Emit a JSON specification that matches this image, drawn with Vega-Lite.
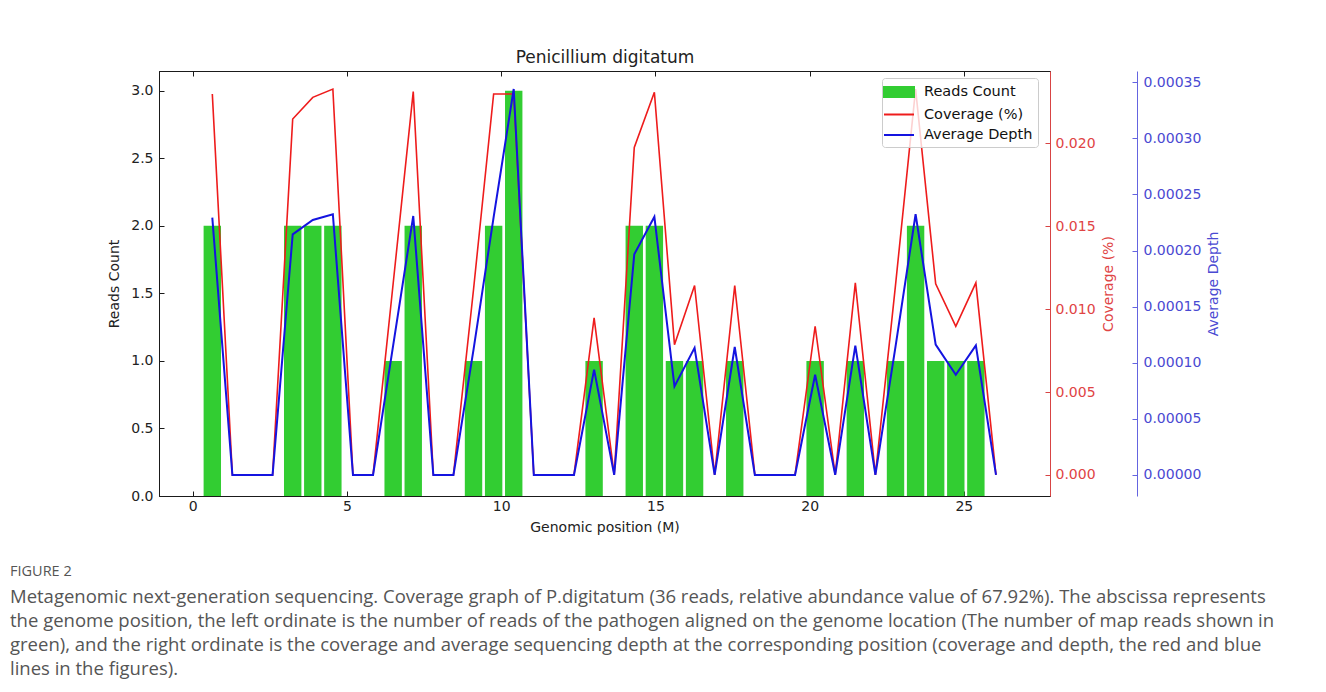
{
  "$schema": "https://vega.github.io/schema/vega-lite/v6.json",
  "width": 891,
  "height": 425,
  "padding": {"left": 10, "top": 48, "right": 5, "bottom": 5},
  "background": "white",
  "config": {
    "view": {"stroke": "#1a1a1a", "strokeWidth": 1},
    "font": "DejaVu Sans",
    "axis": {
      "labelFont": "DejaVu Sans", "titleFont": "DejaVu Sans",
      "labelFontSize": 14, "titleFontSize": 14, "titleFontWeight": "normal",
      "grid": false, "labelColor": "#222222", "titleColor": "#222222",
      "domainColor": "#1a1a1a", "tickColor": "#1a1a1a", "tickSize": -5,
      "labelOverlap": false
    }
  },
  "title": {
    "text": "FIGURE 2",
    "subtitle": [
      "Metagenomic next-generation sequencing. Coverage graph of P.digitatum (36 reads, relative abundance value of 67.92%). The abscissa represents",
      "the genome position, the left ordinate is the number of reads of the pathogen aligned on the genome location (The number of map reads shown in",
      "green), and the right ordinate is the coverage and average sequencing depth at the corresponding position (coverage and depth, the red and blue",
      "lines in the figures)."
    ],
    "orient": "bottom", "anchor": "start", "frame": "group", "dx": -149, "offset": 30,
    "font": "Open Sans", "fontSize": 14.5, "fontWeight": "normal", "color": "#555555",
    "subtitleFont": "Open Sans", "subtitleFontSize": 18.5, "subtitleColor": "#555555",
    "subtitleLineHeight": 24, "subtitlePadding": 9
  },
  "data": {"values": [
    {"position": 0.636, "reads": 2, "coverage": 0.02298, "depth": 0.0002293},
    {"position": 1.287, "reads": 0, "coverage": 0, "depth": 0},
    {"position": 1.939, "reads": 0, "coverage": 0, "depth": 0},
    {"position": 2.590, "reads": 0, "coverage": 0, "depth": 0},
    {"position": 3.242, "reads": 2, "coverage": 0.02147, "depth": 0.0002144},
    {"position": 3.893, "reads": 2, "coverage": 0.02278, "depth": 0.0002272},
    {"position": 4.544, "reads": 2, "coverage": 0.02328, "depth": 0.0002323},
    {"position": 5.196, "reads": 0, "coverage": 0, "depth": 0},
    {"position": 5.847, "reads": 0, "coverage": 0, "depth": 0},
    {"position": 6.499, "reads": 1, "coverage": 0.01155, "depth": 0.0001154},
    {"position": 7.150, "reads": 2, "coverage": 0.02313, "depth": 0.0002308},
    {"position": 7.801, "reads": 0, "coverage": 0, "depth": 0},
    {"position": 8.453, "reads": 0, "coverage": 0, "depth": 0},
    {"position": 9.104, "reads": 1, "coverage": 0.01119, "depth": 0.0001117},
    {"position": 9.756, "reads": 2, "coverage": 0.02298, "depth": 0.0002297},
    {"position": 10.407, "reads": 3, "coverage": 0.02298, "depth": 0.000344},
    {"position": 11.058, "reads": 0, "coverage": 0, "depth": 0},
    {"position": 11.710, "reads": 0, "coverage": 0, "depth": 0},
    {"position": 12.361, "reads": 0, "coverage": 0, "depth": 0},
    {"position": 13.013, "reads": 1, "coverage": 0.00948, "depth": 0.0000938},
    {"position": 13.664, "reads": 0, "coverage": 0, "depth": 0},
    {"position": 14.315, "reads": 2, "coverage": 0.01976, "depth": 0.0001966},
    {"position": 14.967, "reads": 2, "coverage": 0.02309, "depth": 0.000230},
    {"position": 15.618, "reads": 1, "coverage": 0.00786, "depth": 0.0000789},
    {"position": 16.270, "reads": 1, "coverage": 0.01143, "depth": 0.0001132},
    {"position": 16.921, "reads": 0, "coverage": 0, "depth": 0},
    {"position": 17.572, "reads": 1, "coverage": 0.01143, "depth": 0.000114},
    {"position": 18.224, "reads": 0, "coverage": 0, "depth": 0},
    {"position": 18.875, "reads": 0, "coverage": 0, "depth": 0},
    {"position": 19.527, "reads": 0, "coverage": 0, "depth": 0},
    {"position": 20.178, "reads": 1, "coverage": 0.00897, "depth": 0.0000893},
    {"position": 20.829, "reads": 0, "coverage": 0, "depth": 0},
    {"position": 21.481, "reads": 1, "coverage": 0.01159, "depth": 0.0001152},
    {"position": 22.132, "reads": 0, "coverage": 0, "depth": 0},
    {"position": 22.784, "reads": 1, "coverage": 0.01145, "depth": 0.0001144},
    {"position": 23.435, "reads": 2, "coverage": 0.02328, "depth": 0.0002323},
    {"position": 24.086, "reads": 1, "coverage": 0.01153, "depth": 0.0001162},
    {"position": 24.738, "reads": 1, "coverage": 0.00897, "depth": 0.0000893},
    {"position": 25.389, "reads": 1, "coverage": 0.01159, "depth": 0.0001154},
    {"position": 26.041, "reads": 0, "coverage": 0, "depth": 0}
  ]},
  "layer": [
    {
      "mark": {"type": "bar", "size": 17.4},
      "encoding": {
        "x": {"field": "position", "type": "quantitative",
              "scale": {"domain": [-0.93, 27.63], "nice": false, "zero": false},
              "axis": {"orient": "bottom", "values": [0, 5, 10, 15, 20, 25], "title": "Genomic position (M)",
                       "labelPadding": 8.5, "titlePadding": 7, "labelFlush": false}},
        "y": {"field": "reads", "type": "quantitative",
              "scale": {"domain": [0, 3.146], "nice": false},
              "axis": {"values": [0, 0.5, 1, 1.5, 2, 2.5, 3], "format": ".1f", "title": "Reads Count",
                       "labelPadding": 11, "titlePadding": 9}},
        "color": {"datum": "Reads Count", "type": "nominal",
                  "scale": {"domain": ["Reads Count", "Coverage (%)", "Average Depth"], "range": ["#32cd32", "#ee1c1c", "#1414e0"]},
                  "legend": {
                    "title": null, "orient": "none", "legendX": 723, "legendY": 7, "padding": 5,
                    "fillColor": "rgba(255,255,255,0.8)", "strokeColor": "#cccccc", "cornerRadius": 3,
                    "labelFont": "DejaVu Sans", "labelFontSize": 14.5, "labelColor": "#111111",
                    "symbolSize": 256, "rowPadding": 4.5, "symbolOffset": 3, "labelOffset": 16,
                    "encode": {"symbols": {"update": {
                      "shape": {"signal": "datum.value === 'Reads Count' ? 'M-1.875,-0.625H1.875V0.625H-1.875Z' : 'M-1.875,0H1.875'"},
                      "fill": {"signal": "datum.value === 'Reads Count' ? '#32cd32' : 'transparent'"},
                      "stroke": {"signal": "datum.value === 'Reads Count' ? 'transparent' : (datum.value === 'Coverage (%)' ? '#ee1c1c' : '#1414e0')"},
                      "strokeWidth": {"value": 2},
                      "opacity": {"value": 1}
                    }}}
                  }}
      }
    },
    {
      "mark": {"type": "line", "strokeWidth": 1.6},
      "encoding": {
        "x": {"field": "position", "type": "quantitative",
              "axis": {"orient": "top", "values": [0, 5, 10, 15, 20, 25], "labels": false,
                       "title": "Penicillium digitatum", "titleFontSize": 17, "titlePadding": 4}},
        "y": {"field": "coverage", "type": "quantitative",
              "scale": {"domain": [-0.00127, 0.02437], "nice": false, "zero": false},
              "axis": {"orient": "right", "values": [0, 0.005, 0.01, 0.015, 0.02], "format": ".3f",
                       "title": "Coverage (%)", "titleAngle": 270, "titleBaseline": "top",
                       "labelPadding": 10, "titlePadding": 6,
                       "domainColor": "#d84444", "tickColor": "#d84444", "labelColor": "#e04444", "titleColor": "#e04444"}},
        "color": {"datum": "Coverage (%)", "type": "nominal"}
      }
    },
    {
      "mark": {"type": "line", "strokeWidth": 2},
      "encoding": {
        "x": {"field": "position", "type": "quantitative", "axis": null},
        "y": {"field": "depth", "type": "quantitative",
              "scale": {"domain": [-0.0000188, 0.00036], "nice": false, "zero": false},
              "axis": {"orient": "right", "offset": 87, "values": [0, 0.00005, 0.0001, 0.00015, 0.0002, 0.00025, 0.0003, 0.00035], "format": ".5f",
                       "title": "Average Depth", "titleAngle": 270, "titleBaseline": "top",
                       "labelPadding": 11, "titlePadding": 6,
                       "domainColor": "#6464e0", "tickColor": "#6464e0", "labelColor": "#4a4ad2", "titleColor": "#4a4ad2"}},
        "color": {"datum": "Average Depth", "type": "nominal"}
      }
    }
  ],
  "resolve": {"scale": {"y": "independent"}, "axis": {"x": "independent"}}
}
